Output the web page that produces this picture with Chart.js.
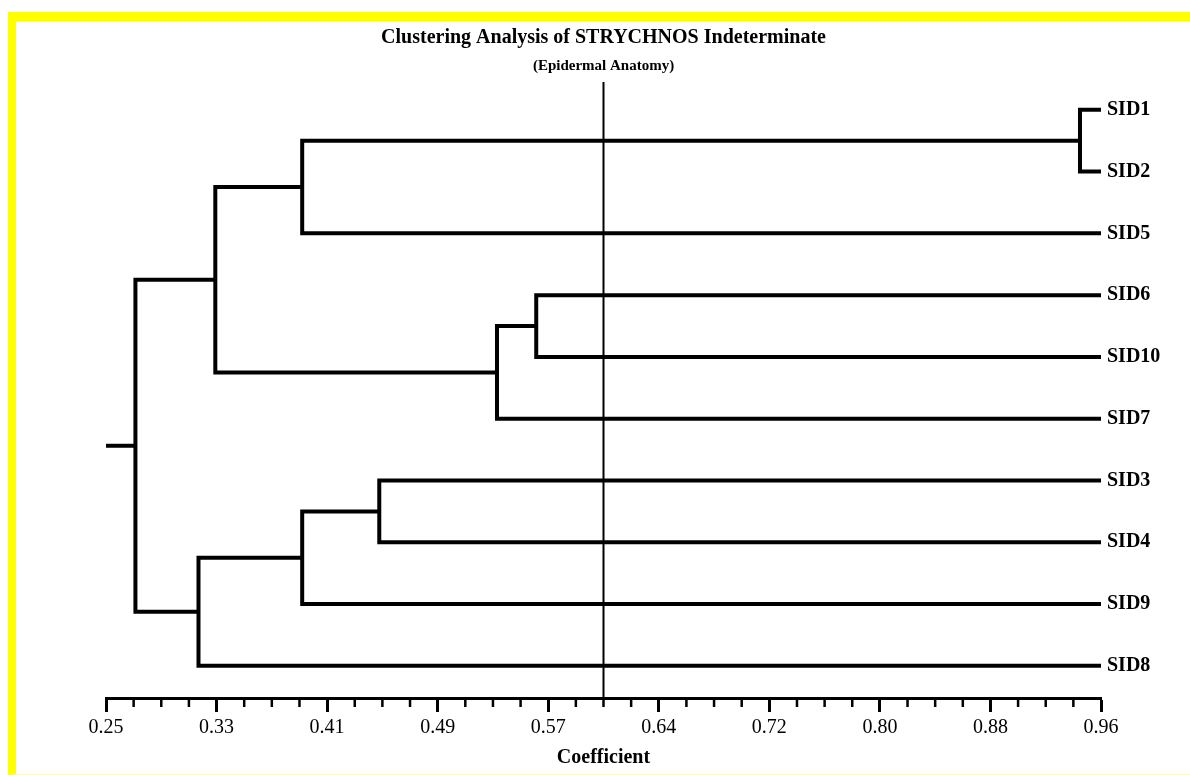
<!DOCTYPE html>
<html>
<head>
<meta charset="utf-8">
<script src="https://cdn.jsdelivr.net/npm/chart.js@4.4.1/dist/chart.umd.min.js"></script>
<style>
html,body{margin:0;padding:0;background:#fff;width:1190px;height:775px;overflow:hidden;}
#wrap{position:absolute;left:0;top:0;width:1190px;height:775px;}
#frame{position:absolute;left:8px;top:12px;width:1182px;height:763px;box-sizing:border-box;border-top:9px solid #ffff00;border-left:8px solid #ffff00;border-bottom:1px solid #ffffa0;pointer-events:none;}
</style>
</head>
<body>
<div id="wrap"><canvas id="c"></canvas></div>
<div id="frame"></div>
<script>
// ---- data ----
const leafNames = ['SID1','SID2','SID5','SID6','SID10','SID7','SID3','SID4','SID9','SID8'];
const leafCoefficient = 0.96;
const mergeIds         = ['A','B','C','D','E','F','G','H','Root'];
const mergeLeft        = ['SID1','A','SID6','C','B','SID3','F','G','E'];
const mergeRight       = ['SID2','SID5','SID10','SID7','D','SID4','SID9','SID8','H'];
const mergeCoefficient = [0.945, 0.390, 0.557, 0.529, 0.328, 0.445, 0.390, 0.316, 0.271];
const cutoffCoefficient = 0.605;
const tickLabels = ['0.25','0.33','0.41','0.49','0.57','0.64','0.72','0.80','0.88','0.96'];
const axisMin = 0.25, axisMax = 0.96;
const yMin = -0.45, yMax = 9.52;

const FONT = "'Liberation Serif','Times New Roman',serif";

// ---- build dendrogram paths from the merges ----
const nodes = {};
leafNames.forEach((n, i) => { nodes[n] = {x: leafCoefficient, y: i}; });
const segments = [];
mergeIds.forEach((id, k) => {
  const a = nodes[mergeLeft[k]], b = nodes[mergeRight[k]], h = mergeCoefficient[k];
  segments.push([{x: a.x, y: a.y}, {x: h, y: a.y}, {x: h, y: b.y}, {x: b.x, y: b.y}]);
  nodes[id] = {x: h, y: (a.y + b.y) / 2};
});
segments.push([{x: axisMin, y: nodes['Root'].y}, {x: nodes['Root'].x, y: nodes['Root'].y}]);

const datasets = segments.map(seg => ({
  data: seg, showLine: true, borderColor: '#000', borderWidth: 4,
  pointRadius: 0, borderJoinStyle: 'miter', borderCapStyle: 'butt', tension: 0
}));
datasets.push({
  data: [{x: cutoffCoefficient, y: yMin}, {x: cutoffCoefficient, y: yMax}],
  showLine: true, borderColor: '#000', borderWidth: 2, pointRadius: 0
});

const nMaj = tickLabels.length - 1;
const majorValues = tickLabels.map((_, i) => axisMin + i * (axisMax - axisMin) / nMaj);

const minorTicks = {
  id: 'minorTicks',
  afterDraw(chart) {
    const s = chart.scales.x, ctx = chart.ctx;
    const step = (axisMax - axisMin) / nMaj / 4;
    ctx.save();
    ctx.strokeStyle = '#000';
    ctx.lineWidth = 2.5;
    for (let i = 0; i <= nMaj * 4; i++) {
      if (i % 4 === 0) continue;
      const px = s.getPixelForValue(axisMin + i * step);
      ctx.beginPath();
      ctx.moveTo(px, s.top);
      ctx.lineTo(px, s.top + 9);
      ctx.stroke();
    }
    ctx.restore();
  }
};

new Chart(document.getElementById('c'), {
  type: 'scatter',
  data: {datasets},
  plugins: [minorTicks],
  options: {
    responsive: true,
    maintainAspectRatio: false,
    animation: false,
    events: [],
    layout: {padding: {left: 106, right: 0, top: 0, bottom: 0}},
    plugins: {
      legend: {display: false},
      tooltip: {enabled: false},
      title: {
        display: true, text: 'Clustering Analysis of STRYCHNOS Indeterminate',
        fullSize: false, color: '#000',
        font: {family: FONT, size: 20, weight: 'bold'},
        padding: {top: 26, bottom: 0}
      },
      subtitle: {
        display: true, text: '(Epidermal Anatomy)',
        fullSize: false, color: '#000',
        font: {family: FONT, size: 15, weight: 'bold'},
        padding: {top: 7, bottom: 7}
      }
    },
    scales: {
      x: {
        type: 'linear', position: 'bottom', min: axisMin, max: axisMax,
        afterBuildTicks(scale) { scale.ticks = majorValues.map(v => ({value: v})); },
        afterFit(scale) { scale.height = 77; },
        ticks: {
          color: '#000', padding: 4, maxRotation: 0, autoSkip: false,
          font: {family: FONT, size: 20},
          callback: (v, i) => tickLabels[i]
        },
        grid: {drawOnChartArea: false, drawTicks: true, tickLength: 14, tickWidth: 3, tickColor: '#000', color: '#000'},
        border: {display: true, color: '#000', width: 3},
        title: {
          display: true, text: 'Coefficient', color: '#000',
          font: {family: FONT, size: 20, weight: 'bold'},
          padding: {top: 0, bottom: 5}
        }
      },
      y: {
        type: 'linear', position: 'right', reverse: true, min: yMin, max: yMax,
        afterBuildTicks(scale) { scale.ticks = leafNames.map((_, i) => ({value: i})); },
        afterFit(scale) { scale.width = 89; },
        ticks: {
          color: '#000', padding: 6, autoSkip: false,
          font: {family: FONT, size: 20, weight: 'bold'},
          callback: (v) => leafNames[v]
        },
        grid: {display: false, drawTicks: false},
        border: {display: false}
      }
    }
  }
});
</script>
</body>
</html>
